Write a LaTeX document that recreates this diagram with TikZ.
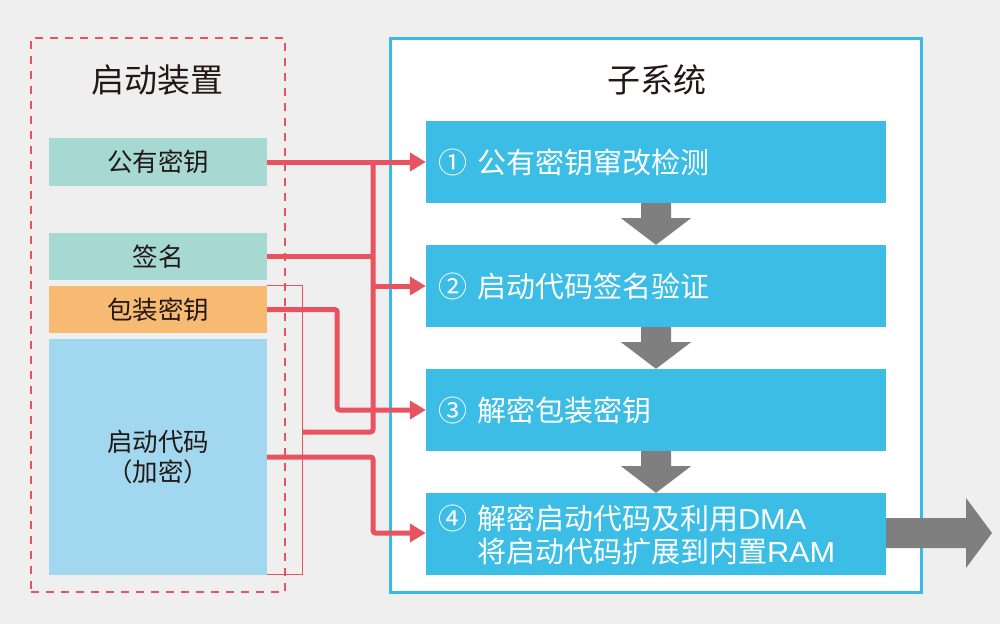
\documentclass[tikz,border=0pt]{standalone}
\usepackage{fontspec}
\setmainfont{Noto Sans CJK SC}
\newfontfamily\latinf[FakeStretch=1.06]{Liberation Sans}
\usetikzlibrary{arrows.meta,calc}
\definecolor{bgc}{HTML}{EFEFEF}
\definecolor{tealc}{HTML}{A5D9D2}
\definecolor{orangec}{HTML}{F7BA73}
\definecolor{lbluec}{HTML}{A1D8EF}
\definecolor{stepc}{HTML}{3BBDE6}
\definecolor{framec}{HTML}{3BB9E6}
\definecolor{redc}{HTML}{E9535F}
\definecolor{grayc}{HTML}{7F7F7F}
\definecolor{txtc}{HTML}{231815}
\begin{document}
\begin{tikzpicture}[x=1pt,y=-1pt,
  devbox/.style={inner sep=0pt, minimum width=218pt, text=txtc, font=\fontsize{25.5}{30}\selectfont, align=center},
  stepbox/.style={inner sep=0pt, fill=stepc, minimum width=460pt, minimum height=82pt},
  steptxt/.style={inner sep=0pt, text=white, font=\fontsize{29}{34}\selectfont},
  titletxt/.style={inner sep=0pt, text=txtc, font=\fontsize{33}{38}\selectfont},
  redline/.style={draw=redc, line width=5pt, rounded corners=2.5pt},
  redarrow/.style={redline, -{Triangle[length=16pt,width=18pt]}},
  garrow/.style={fill=grayc}]
\fill[bgc] (0,0) rectangle (1000,624);
\useasboundingbox (0,0) rectangle (1000,624);

% frames
\node[draw=redc, line width=1.5pt, dash pattern=on 8pt off 7pt, minimum width=254pt, minimum height=554pt, inner sep=0pt] (dev) at (158,315) {};
\node[draw=framec, fill=white, line width=3pt, minimum width=531pt, minimum height=554pt, inner sep=0pt] (sub) at (655.5,315) {};
\node[titletxt] (devt) at (157,80) {启动装置};
\node[titletxt] (subt) at (657,80) {子系统};

% device boxes
\node[devbox, fill=tealc, minimum height=48pt] (pk) at (158,162) {公有密钥};
\node[devbox, fill=tealc, minimum height=47pt] (sig) at (158,256.5) {签名};
\node[devbox, fill=orangec, minimum height=47pt] (wk) at (158,309.5) {包装密钥};
\node[devbox, fill=lbluec, minimum height=236pt] (code) at (158,457) {启动代码\\（加密）};
\node[minimum width=35pt, minimum height=288pt, inner sep=0pt] (range) at (284.5,430) {};
\draw[redc, line width=1.3pt] (range.north west) -- (range.north east) -- (range.south east) -- (range.south west);

% steps
\node[stepbox] (s1) at (656,162) {};
\node[stepbox] (s2) at (656,286) {};
\node[stepbox] (s3) at (656,410) {};
\node[stepbox] (s4) at (656,534) {};

\node[steptxt] (n1) at ($(s1.west)+(27,0)$) {①};
\node[steptxt, anchor=west] (t1) at ($(s1.west)+(51,0)$) {公有密钥窜改检测};
\node[steptxt] (n2) at ($(s2.west)+(27,0)$) {②};
\node[steptxt, anchor=west] (t2) at ($(s2.west)+(51,0)$) {启动代码签名验证};
\node[steptxt] (n3) at ($(s3.west)+(27,0)$) {③};
\node[steptxt, anchor=west] (t3) at ($(s3.west)+(51,0)$) {解密包装密钥};
\node[steptxt] (n4) at ($(s4.west)+(27,-16)$) {④};
\node[steptxt, anchor=west] (t4a) at ($(s4.west)+(51,-16)$) {解密启动代码及利用{\latinf DMA}};
\node[steptxt, anchor=west] (t4b) at ($(s4.west)+(51,18)$) {将启动代码扩展到内置{\latinf RAM}};

% gray down arrows
\foreach \a/\b in {s1/s2,s2/s3,s3/s4}{
  \fill[garrow] ($(\a.south)+(-15,0)$) -- ($(\a.south)+(-15,15)$) -- ($(\a.south)+(-35,15)$)
    -- (\b.north) -- ($(\a.south)+(35,15)$) -- ($(\a.south)+(15,15)$) -- ($(\a.south)+(15,0)$) -- cycle;
}
% exit arrow
\coordinate (out) at (992,533);
\fill[garrow] ($(s4.east |- out)+(0,-15)$) -- ($(out)+(-26,-15)$) -- ($(out)+(-26,-35)$) -- (out)
  -- ($(out)+(-26,35)$) -- ($(out)+(-26,15)$) -- ($(s4.east |- out)+(0,15)$) -- cycle;

% red connectors
\coordinate (bust) at (373,162);
\coordinate (busb) at (373,432);
\draw[redline] (range.east |- busb) -- (busb) -- (bust);
\draw[redline] (sig.east) -- (sig.east -| busb);
\draw[redarrow] (pk.east) -- (s1.west);
\draw[redarrow] (bust |- s2.west) -- (s2.west);
\draw[redarrow] (wk.east) -- ++(70,0) |- (s3.west);
\draw[redarrow] (code.east) -- (code.east -| busb) |- ($(s4.west)+(0,-1)$);
\end{tikzpicture}
\end{document}
